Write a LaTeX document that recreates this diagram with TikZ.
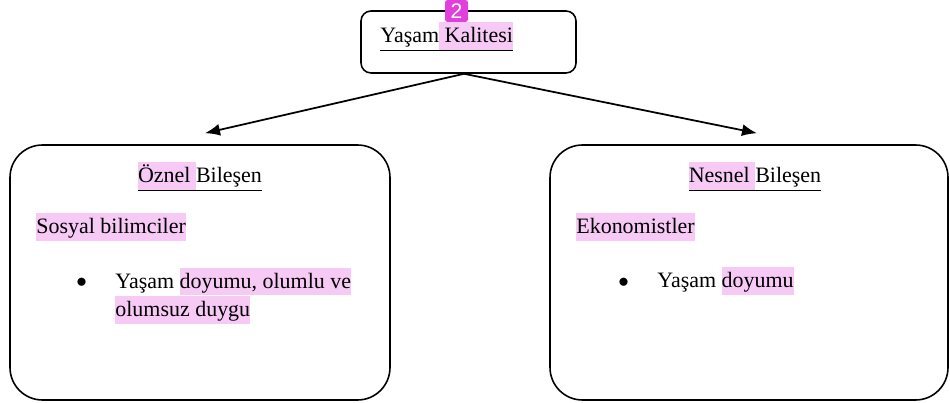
\documentclass[tikz,border=0pt]{standalone}
\usepackage{fontspec}
\setmainfont{Liberation Serif}
\setsansfont{Liberation Sans}
\usetikzlibrary{arrows.meta}

\definecolor{hlpink}{RGB}{247,202,246}
\definecolor{badgemag}{RGB}{226,64,220}
% pink highlight, and a version that keeps the underline close to the text
\newcommand{\hlt}[1]{{\setlength{\fboxsep}{0pt}\colorbox{hlpink}{\vrule height 0.95em depth 0.3em width 0pt\relax#1}}}
\newcommand{\hlu}[1]{\raisebox{0pt}[\height][0.2em]{\hlt{#1}}}

\tikzset{
  box/.style={draw, line width=0.9pt, rounded corners=#1},
  txt/.style={anchor=base west, inner sep=0pt, font=\fontsize{12.5}{16}\selectfont},
  head/.style={anchor=base, inner sep=0pt, font=\fontsize{12.5}{16}\selectfont},
  arr/.style={-{Latex[length=3mm,width=2.4mm]}, line width=1pt}
}

\begin{document}
\begin{tikzpicture}
\useasboundingbox (0, 0) rectangle (19, 8.06);

% boxes
\node[box=0.2cm, minimum width=4.3cm, minimum height=1.24cm] (top) at (9.37, 7.22) {};
\node[box=0.65cm, minimum width=7.6cm, minimum height=5.1cm] (oz) at (4.0, 2.61) {};
\node[box=0.65cm, minimum width=7.96cm, minimum height=5.1cm] (ne) at (14.98, 2.61) {};

% badge
\node[fill=badgemag, rounded corners=1.5pt, minimum width=0.46cm, minimum height=0.44cm,
      inner sep=0pt, text=white, font=\sffamily\fontsize{12}{12}\selectfont] (badge) at (9.13, 7.84) {2};

% top text
\node[txt] (title) at (7.6, 7.2) {\underline{Yaşam\hlu{ Kalitesi}}};

% left box
\node[head] (ozh) at (4.0, 4.4) {\underline{\hlu{Öznel }Bileşen}};
\node[txt] (sos) at (0.72, 3.38) {\hlt{Sosyal bilimciler}};
\node[txt] (b1) at (1.52, 2.3) {$\bullet$};
\node[txt, align=left] (oz1) at (2.3, 1.72) {Yaşam \hlt{doyumu, olumlu ve}\\\hlt{olumsuz duygu}};

% right box
\node[head] (neh) at (15.1, 4.4) {\underline{\hlu{Nesnel }Bileşen}};
\node[txt] (eko) at (11.52, 3.38) {\hlt{Ekonomistler}};
\node[txt] (b2) at (12.36, 2.3) {$\bullet$};
\node[txt] (ne1) at (13.14, 2.3) {Yaşam \hlt{doyumu}};

% arrows
\draw[arr] ([xshift=-0.09cm]top.south) -- ([xshift=0.1cm, yshift=0.22cm]oz.north);
\draw[arr] ([xshift=-0.09cm]top.south) -- ([xshift=0.16cm, yshift=0.22cm]ne.north);

\end{tikzpicture}
\end{document}
